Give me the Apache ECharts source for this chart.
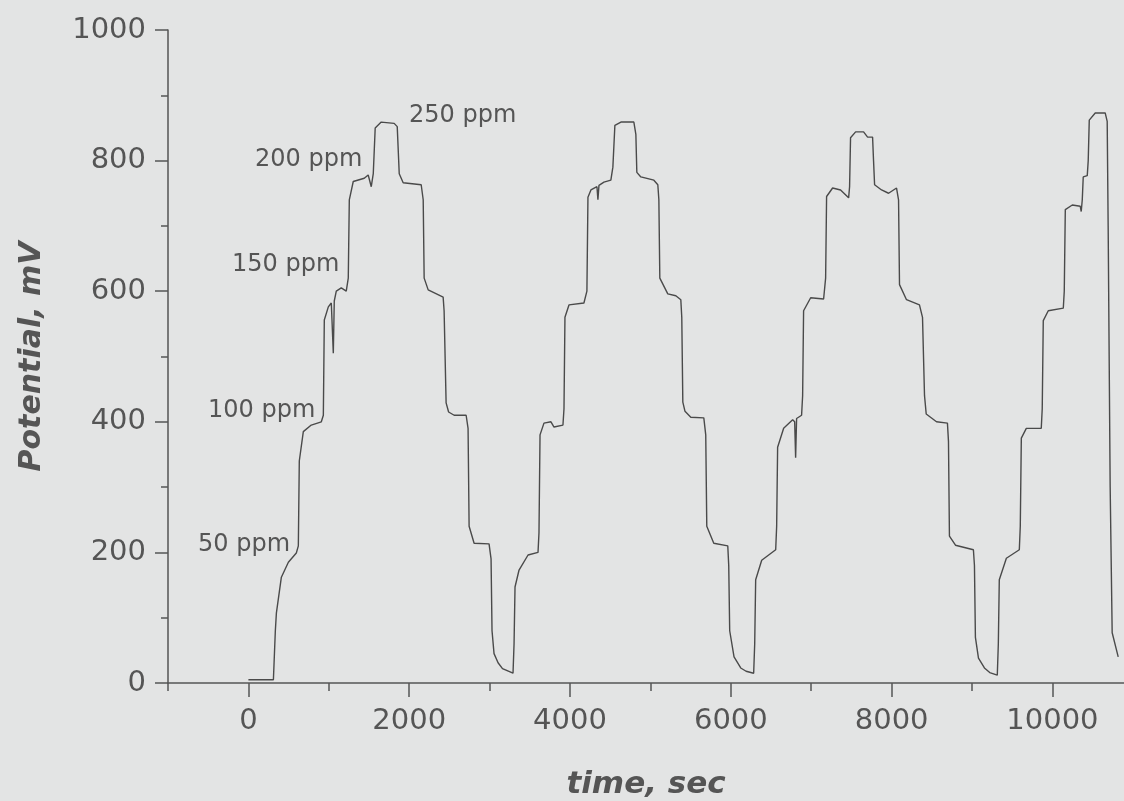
<!DOCTYPE html>
<html>
<head>
<meta charset="utf-8">
<script src="https://cdn.jsdelivr.net/npm/echarts@6/dist/echarts.min.js"></script>
<style>
  html, body { margin: 0; padding: 0; background: #e3e4e4; }
  #main { width: 1124px; height: 801px; }
</style>
</head>
<body>
<div id="main"></div>
<script>
// potential trace
var timeSec = [
    0, 311, 335, 348, 410, 497, 596, 621, 633, 683, 782, 907, 932, 944, 994, 1031, 1043, 1056, 1068, 1093,
    1155, 1217, 1242, 1255, 1304, 1441, 1490, 1528, 1553, 1577, 1652, 1813, 1851, 1876, 1925, 2149, 2174, 2186, 2236, 2422,
    2434, 2459, 2490, 2559, 2708, 2732, 2745, 2807, 2993, 3018, 3030, 3055, 3105, 3160, 3291, 3304, 3316, 3366, 3478, 3602, 3614, 3627, 3676,
    3763, 3801, 3912, 3925, 3937, 3987, 4173, 4210, 4223, 4260, 4335, 4347, 4360, 4422, 4508, 4533, 4558, 4633, 4794, 4819,
    4831, 4881, 5043, 5092, 5105, 5117, 5216, 5316, 5378, 5390, 5403, 5430, 5502, 5664, 5688, 5701, 5788, 5962, 5974, 5986, 6040, 6123, 6190,
    6284, 6297, 6309, 6384, 6558, 6570, 6582, 6657, 6769, 6794, 6806, 6818, 6880, 6893, 6905, 6993, 7154, 7179, 7191, 7266,
    7365, 7465, 7477, 7489, 7552, 7651, 7701, 7763, 7775, 7788, 7875, 7962, 8061, 8086, 8098, 8185, 8346, 8384, 8409, 8430, 8558,
    8694, 8707, 8719, 8794, 9017, 9030, 9042, 9080, 9154, 9220, 9314, 9327, 9339, 9427, 9588, 9600, 9613, 9675, 9861, 9873, 9886, 9948,
    10135, 10147, 10160, 10247, 10346, 10358, 10371, 10383, 10433, 10445, 10458, 10532, 10656, 10681, 10693, 10718, 10743, 10818
];
var potentialMv = [
    5, 5, 80, 107, 162, 185, 199, 210, 340, 385, 395, 400, 410, 556, 576, 582, 582, 505, 585, 600,
    605, 600, 620, 740, 768, 773, 778, 760, 780, 850, 859, 857, 852, 780, 766, 763, 740, 620, 602, 591,
    570, 429, 415, 410, 410, 390, 240, 214, 213, 190, 80, 45, 31, 22, 15, 60, 147, 173, 196, 200, 230, 380, 398,
    400, 392, 395, 420, 560, 579, 582, 600, 744, 755, 760, 740, 762, 767, 770, 790, 854, 859, 859, 840,
    782, 775, 770, 763, 740, 620, 596, 593, 587, 560, 430, 416, 407, 406, 380, 240, 214, 210, 180, 80, 40, 23, 18,
    15, 60, 158, 188, 204, 240, 361, 390, 403, 400, 345, 405, 410, 440, 570, 590, 588, 620, 745, 758,
    755, 743, 760, 835, 844, 844, 836, 836, 800, 763, 755, 750, 758, 740, 610, 587, 579, 560, 440, 412, 400,
    398, 370, 225, 211, 204, 180, 70, 38, 23, 16, 12, 60, 158, 191, 204, 240, 375, 390, 390, 420, 555, 570,
    574, 600, 725, 732, 730, 722, 740, 775, 777, 800, 862, 873, 873, 860, 700, 300, 77, 40
];

var xMajorTicks = [0, 2000, 4000, 6000, 8000, 10000];
var xMinorTicks = [-1000, 1000, 3000, 5000, 7000, 9000];
var concLabels = ['50 ppm', '100 ppm', '150 ppm', '200 ppm', '250 ppm'];

var ink = '#555555';
var labelFont = 'DejaVu Sans';

var points = timeSec.map(function(t, i) {
    return [t, potentialMv[i]];
});

// where the ppm notes sit on the page
var notePos = [[198, 547], [208, 413], [232, 267], [255, 162], [409, 118]];

function plain(v) {
    return String(v);
}

var chart = echarts.init(document.getElementById('main'));

var option = {
    animation: false,
    backgroundColor: '#e3e4e4',
    grid: {
        left: 168,
        right: 0,
        top: 30,
        bottom: 118,
        containLabel: false,
        outerBoundsMode: 'none'
    },
    xAxis: [{
        type: 'value',
        min: -1000,
        max: 10890,
        name: 'time, sec',
        nameLocation: 'middle',
        nameGap: 86,
        nameTextStyle: {
            color: ink,
            fontFamily: labelFont,
            fontSize: 31,
            fontWeight: 'bold',
            fontStyle: 'italic'
        },
        axisLine: { onZero: false, lineStyle: { color: ink, width: 1.5 } },
        axisTick: {
            customValues: xMajorTicks,
            length: 14,
            lineStyle: { color: ink, width: 1.5 }
        },
        axisLabel: {
            customValues: xMajorTicks,
            formatter: plain,
            margin: 24,
            color: ink,
            fontFamily: labelFont,
            fontSize: 29
        },
        splitLine: { show: false }
    }, {
        type: 'value',
        min: -1000,
        max: 10890,
        position: 'bottom',
        axisLine: { show: false, onZero: false },
        axisTick: {
            customValues: xMinorTicks,
            length: 8,
            lineStyle: { color: ink, width: 1.5 }
        },
        axisLabel: { show: false },
        splitLine: { show: false }
    }],
    yAxis: {
        type: 'value',
        min: 0,
        max: 1000,
        interval: 200,
        name: 'Potential, mV',
        nameLocation: 'middle',
        nameGap: 121,
        nameTextStyle: {
            color: ink,
            fontFamily: labelFont,
            fontSize: 30,
            fontWeight: 'bold',
            fontStyle: 'italic'
        },
        axisLine: { show: true, onZero: false, lineStyle: { color: ink, width: 1.5 } },
        axisTick: { show: true, length: 13, lineStyle: { color: ink, width: 1.5 } },
        minorTick: { show: true, splitNumber: 2, length: 7, lineStyle: { color: ink, width: 1.5 } },
        axisLabel: {
            formatter: plain,
            margin: 22,
            color: ink,
            fontFamily: labelFont,
            fontSize: 29
        },
        splitLine: { show: false }
    },
    graphic: concLabels.map(function(txt, i) {
        return {
            type: 'text',
            left: notePos[i][0],
            top: notePos[i][1] - 14,
            style: {
                text: txt,
                fill: ink,
                font: '24px "DejaVu Sans"'
            }
        };
    }),
    series: [{
        type: 'line',
        data: points,
        showSymbol: false,
        lineStyle: { color: '#4a4a4a', width: 1.4 }
    }]
};

chart.setOption(option);
</script>
</body>
</html>
